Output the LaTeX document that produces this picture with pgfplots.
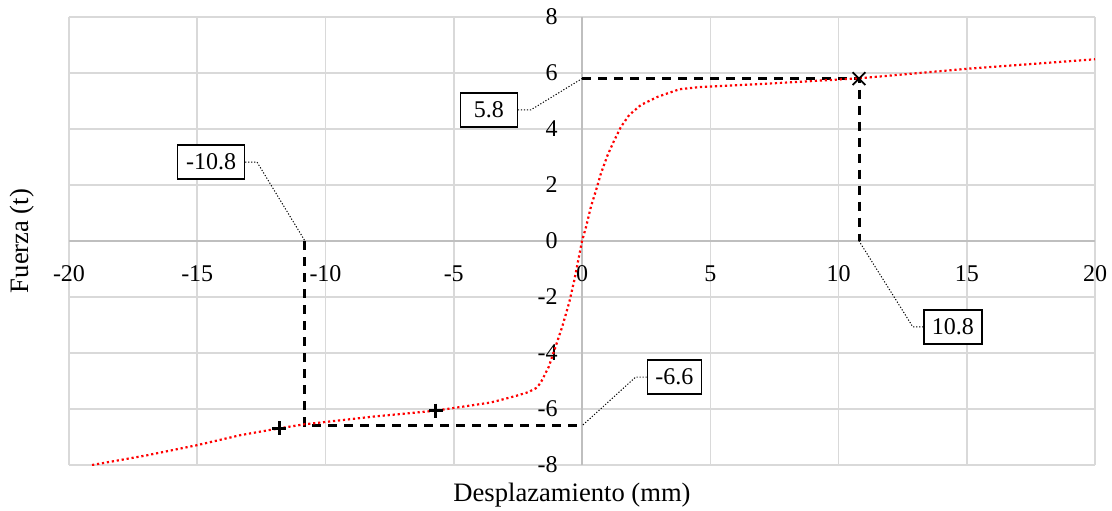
\documentclass[border=0pt]{standalone}
\usepackage{fontspec}
\setmainfont{Liberation Serif}
\usepackage{pgfplots}
\pgfplotsset{compat=1.18}
\usetikzlibrary{calc}
\definecolor{gridgray}{HTML}{D9D9D9}
\definecolor{axgray}{HTML}{BFBFBF}
\begin{document}
\begin{tikzpicture}[font=\fontsize{12}{14}\selectfont,
  callout/.style={draw=black, line width=0.6pt, fill=white, minimum height=17pt, inner xsep=2pt, font=\fontsize{12}{14}\selectfont},
  leader/.style={black, line width=0.5pt, dash pattern=on 0.6pt off 0.9pt}]
\begin{axis}[
  scale only axis, width=513pt, height=224pt,
  xmin=-20, xmax=20, ymin=-8, ymax=8,
  axis lines=middle,
  axis line style={draw=axgray, line width=0.8pt, -},
  xtick={-20,-15,...,20}, ytick={-8,-6,...,8},
  grid=major, major grid style={draw=gridgray, line width=0.75pt},
  tick style={draw=none},
  /pgf/number format/assume math mode=true,
  ticklabel style={font=\fontsize{12}{14}\selectfont},
  xticklabel style={anchor=north, yshift=-6.5pt},
  yticklabel style={anchor=east, xshift=-6.5pt},
  hide obscured x ticks=false, hide obscured y ticks=false,
  xlabel={Desplazamiento (mm)}, ylabel={Fuerza (t)},
  label style={font=\fontsize{13.3}{15}\selectfont},
  xlabel style={at={(rel axis cs:0.5,0)}, anchor=north, yshift=-5.5pt, xshift=-5pt},
  ylabel style={at={(rel axis cs:0,0.5)}, rotate=90, anchor=south, inner sep=0pt, yshift=17pt},
]
\addplot[black, line width=1.5pt, dash pattern=on 4.5pt off 3.5pt] coordinates {(-10.8,0) (-10.8,-6.6) (0,-6.6)};
\addplot[black, line width=1.5pt, dash pattern=on 4.5pt off 3.5pt] coordinates {(0,5.8) (10.8,5.8) (10.8,0)};
\addplot[red, line width=1.1pt, dash pattern=on 1.1pt off 1.4pt] coordinates {
(-19.1,-8.0) (-17,-7.66) (-15,-7.29) (-13.3,-6.93) (-11.8,-6.69) (-10.85,-6.55)
(-8.12,-6.27) (-5.71,-6.06) (-3.57,-5.77) (-3.18,-5.68) (-2.53,-5.52) (-2.1,-5.4)
(-1.8,-5.26) (-1.62,-5.08) (-1.3,-4.5) (-1.03,-3.77) (-0.77,-3.06) (-0.5,-2.2)
(-0.3,-1.4) (-0.08,-0.38) (0,0) (0.16,0.51) (0.35,1.23) (0.55,1.82) (0.74,2.42)
(1.0,3.07) (1.26,3.6) (1.52,4.08) (1.84,4.5) (2.3,4.86) (2.95,5.15) (3.8,5.42)
(4.6,5.5) (6.2,5.57) (8,5.66) (10.8,5.81) (15,6.15) (20,6.49)};
\addplot[only marks, black, mark=+, mark size=3.5pt, line width=1.3pt] coordinates {(-11.8,-6.69) (-5.7,-6.06)};
\addplot[only marks, black, mark=x, mark size=4.5pt, line width=0.9pt] coordinates {(10.8,5.8)};
\node[callout, minimum width=28.5pt] (a) at (axis cs:-3.63,4.68) {5.8};
\draw[leader] (a.east) -- (axis cs:-2.0,4.68) -- (axis cs:0,5.8);
\node[callout, minimum width=33.5pt] (b) at (axis cs:-14.46,2.82) {-10.8};
\draw[leader] (b.east) -- (axis cs:-12.67,2.82) -- (axis cs:-10.8,0);
\node[callout, minimum width=29pt] (c) at (axis cs:14.46,-3.07) {10.8};
\draw[leader] (c.west) -- (axis cs:12.9,-3.07) -- (axis cs:10.8,0);
\node[callout, minimum width=27pt] (d) at (axis cs:3.6,-4.86) {-6.6};
\draw[leader] (d.west) -- (axis cs:2.09,-4.86) -- (axis cs:0,-6.6);
\end{axis}
\pgfresetboundingbox
\path ($(current axis.south west)+(-34.5pt,-22.5pt)$) rectangle ($(current axis.north east)+(8.5pt,8.5pt)$);
\end{tikzpicture}
\end{document}
